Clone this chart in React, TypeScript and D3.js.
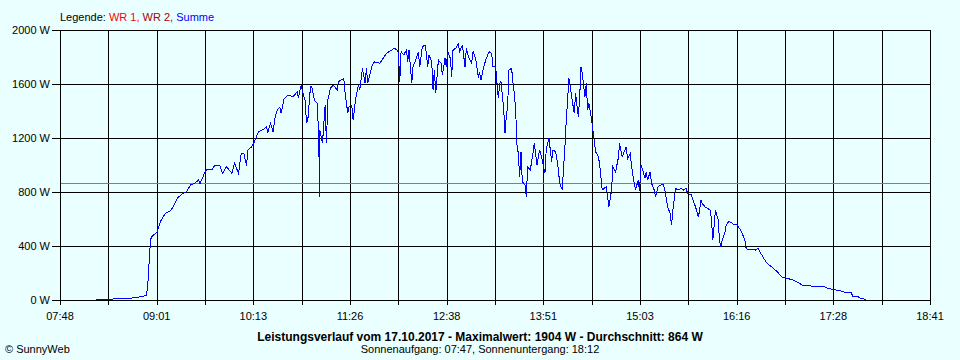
import React from "react";
import * as d3 from "d3";

// Time of each reading (HH:MM) and power of "Summe" in W
const times: string[] = [
  "08:15","08:32","08:40","08:44","08:49","08:53","08:54","08:55","08:56","08:57",
  "09:01","09:02","09:04","09:07","09:11","09:13","09:16","09:20","09:23","09:26",
  "09:29","09:32","09:33","09:37","09:38","09:42","09:44","09:48","09:50","09:53",
  "09:57","09:59","10:02","10:04","10:06","10:08","10:09","10:12","10:14","10:17",
  "10:21","10:23","10:24","10:26","10:28","10:29","10:31","10:33","10:34","10:36",
  "10:39","10:43","10:46","10:47","10:49","10:51","10:52","10:53","10:54","10:56",
  "10:57","10:59","11:01","11:02","11:03","11:03","11:05","11:07","11:08","11:09",
  "11:11","11:13","11:16","11:17","11:21","11:22","11:24","11:25","11:27","11:28",
  "11:30","11:32","11:33","11:35","11:37","11:38","11:39","11:42","11:44","11:48",
  "11:53","11:57","11:59","12:01","12:02","12:03","12:04","12:06","12:08","12:09",
  "12:10","12:12","12:13","12:15","12:17","12:18","12:20","12:22","12:23","12:24",
  "12:25","12:27","12:28","12:29","12:30","12:32","12:34","12:35","12:37","12:38",
  "12:39","12:41","12:42","12:43","12:45","12:47","12:48","12:50","12:52","12:53",
  "12:55","12:57","12:58","13:00","13:02","13:03","13:04","13:06","13:08","13:10",
  "13:12","13:13","13:15","13:16","13:17","13:18","13:19","13:21","13:22","13:23",
  "13:24","13:25","13:27","13:28","13:29","13:30","13:31","13:32","13:33","13:34",
  "13:35","13:37","13:38","13:39","13:41","13:43","13:44","13:46","13:48","13:50",
  "13:52","13:53","13:55","13:57","13:58","14:00","14:02","14:03","14:05","14:06",
  "14:07","14:08","14:10","14:11","14:12","14:14","14:15","14:17","14:18","14:19",
  "14:20","14:22","14:23","14:24","14:25","14:27","14:28","14:30","14:32","14:33",
  "14:34","14:35","14:38","14:39","14:40","14:42","14:43","14:45","14:47","14:48",
  "14:50","14:52","14:53","14:54","14:56","14:57","14:59","15:00","15:02","15:03",
  "15:04","15:05","15:07","15:08","15:09","15:11","15:12","15:14","15:15","15:17",
  "15:19","15:21","15:22","15:24","15:26","15:27","15:28","15:30","15:32","15:34",
  "15:36","15:38","15:39","15:42","15:43","15:45","15:47","15:48","15:49","15:50",
  "15:52","15:54","15:56","15:57","15:58","15:59","16:00","16:02","16:03","16:04",
  "16:05","16:07","16:08","16:10","16:12","16:14","16:16","16:18","16:20","16:22",
  "16:23","16:25","16:28","16:30","16:32","16:34","16:37","16:39","16:43","16:47",
  "16:50","16:54","16:58","17:02","17:05","17:10","17:15","17:22","17:24","17:28",
  "17:33","17:38","17:42","17:43","17:47","17:49","17:52","17:53"
];

const watts: number[] = [
  5,8,12,17,25,35,130,300,450,470,
  506,543,593,642,662,691,753,790,802,852,
  864,889,860,951,963,963,995,995,938,988,
  938,1012,938,1086,1086,995,1111,1136,1173,1247,
  1264,1284,1242,1309,1242,1333,1407,1427,1383,1486,
  1519,1506,1543,1499,1593,1506,1481,1309,1333,1580,
  1580,1481,1457,1259,765,1259,1160,1444,1160,1481,
  1568,1593,1556,1617,1642,1531,1383,1432,1444,1333,
  1494,1593,1556,1716,1605,1716,1605,1728,1765,1753,
  1827,1852,1864,1852,1827,1617,1840,1815,1852,1765,
  1852,1605,1728,1778,1840,1728,1877,1889,1827,1728,
  1815,1765,1556,1704,1531,1778,1753,1667,1790,1728,
  1840,1790,1654,1852,1864,1896,1840,1889,1728,1864,
  1790,1753,1840,1790,1654,1679,1630,1728,1790,1840,
  1827,1728,1728,1605,1494,1605,1617,1420,1235,1358,
  1444,1704,1716,1605,1531,1407,1148,1086,913,1099,
  876,852,765,988,963,1086,1160,1000,1111,1037,
  938,1123,1198,1025,1111,1099,975,864,815,988,
  1136,1333,1642,1580,1506,1383,1531,1358,1481,1728,
  1679,1506,1605,1407,1457,1333,1259,1099,1062,1012,
  913,815,840,765,691,815,988,950,1049,1160,
  1062,1111,1136,1049,1086,988,864,815,889,808,
  1000,975,901,950,889,950,864,815,765,840,
  852,852,815,691,640,556,664,827,815,827,
  815,827,790,778,741,691,617,654,741,716,
  691,679,667,593,444,556,667,593,444,395,
  444,494,556,580,575,556,556,531,494,444,
  383,370,375,370,383,346,296,268,240,202,
  168,160,148,130,111,106,99,99,86,80,
  69,56,54,25,25,12,7,0
];

const xTickLabels: string[] = ["07:48","09:01","10:13","11:26","12:38","13:51","15:03","16:16","17:28","18:41"];
const yTicks: number[] = [0, 400, 800, 1200, 1600, 2000];
const averageWatt = 864;
const legendItems: { label: string; color: string }[] = [
  { label: "WR 1,", color: "#ff0000" },
  { label: "WR 2,", color: "#a80000" },
  { label: "Summe", color: "#0000ff" },
];
const titleText = "Leistungsverlauf vom 17.10.2017 - Maximalwert: 1904 W - Durchschnitt: 864 W";
const subTitleText = "Sonnenaufgang: 07:47, Sonnenuntergang: 18:12";

const toMin = (s: string) => {
  const [h, m] = s.split(":").map(Number);
  return h * 60 + m;
};

export default function App() {
  const W = 960, H = 360;
  const left = 60, right = 930, top = 30, bottom = 300;
  const x = d3.scaleLinear().domain([toMin(xTickLabels[0]), toMin(xTickLabels[xTickLabels.length - 1])]).range([left, right]);
  const y = d3.scaleLinear().domain([0, 2000]).range([bottom, top]);
  const [d0, d1] = x.domain();
  const nGrid = (xTickLabels.length - 1) * 2;
  const gridMins = d3.range(nGrid + 1).map((i) => d0 + (i * (d1 - d0)) / nGrid);
  const data = times.map((t, i) => ({ t: toMin(t), v: watts[i] }));
  const line = d3.line<{ t: number; v: number }>().x((d) => x(d.t)).y((d) => y(d.v));
  const font = "'Liberation Sans', Arial, sans-serif";
  const px = (v: number) => Math.round(v) + 0.5;

  return (
    <svg width={W} height={H} style={{ position: "absolute", left: 0, top: 0, display: "block" }} fontFamily={font}>
      <rect x={0} y={0} width={W} height={H} fill="#eaffff" />
      {/* legend */}
      <text x={60} y={21} fontSize={11} fill="#000">
        <tspan>Legende: </tspan>
        {legendItems.map((l, i) => (
          <tspan key={i} fill={l.color}>{(i > 0 ? " " : "") + l.label}</tspan>
        ))}
      </text>
      {/* horizontal grid + y labels */}
      {yTicks.map((v) => (
        <g key={v}>
          <line x1={52} x2={right} y1={px(y(v))} y2={px(y(v))} stroke="#000" strokeWidth={1} shapeRendering="crispEdges" />
          <text x={50} y={y(v) + 4} fontSize={11} textAnchor="end" fill="#000">{v} W</text>
        </g>
      ))}
      {/* vertical grid */}
      {gridMins.map((m, i) => (
        <line key={i} x1={px(x(m))} x2={px(x(m))} y1={top} y2={bottom + 5} stroke="#000" strokeWidth={1} shapeRendering="crispEdges" />
      ))}
      {xTickLabels.map((lab, i) => (
        <text key={lab} x={x(gridMins[i * 2])} y={320} fontSize={11} textAnchor="middle" fill="#000">{lab}</text>
      ))}
      {/* average line */}
      <line x1={left + 1} x2={right} y1={px(y(averageWatt))} y2={px(y(averageWatt))} stroke="#808080" strokeWidth={1} shapeRendering="crispEdges" />
      {/* data */}
      <path d={line(data) || ""} fill="none" stroke="#0000ff" strokeWidth={1} shapeRendering="crispEdges" strokeLinejoin="miter" />
      {/* titles */}
      <text x={480} y={341} fontSize={12} fontWeight="bold" textAnchor="middle" fill="#000">{titleText}</text>
      <text x={480} y={353} fontSize={11} textAnchor="middle" fill="#000">{subTitleText}</text>
      <text x={5} y={353} fontSize={11} fill="#000">© SunnyWeb</text>
    </svg>
  );
}
